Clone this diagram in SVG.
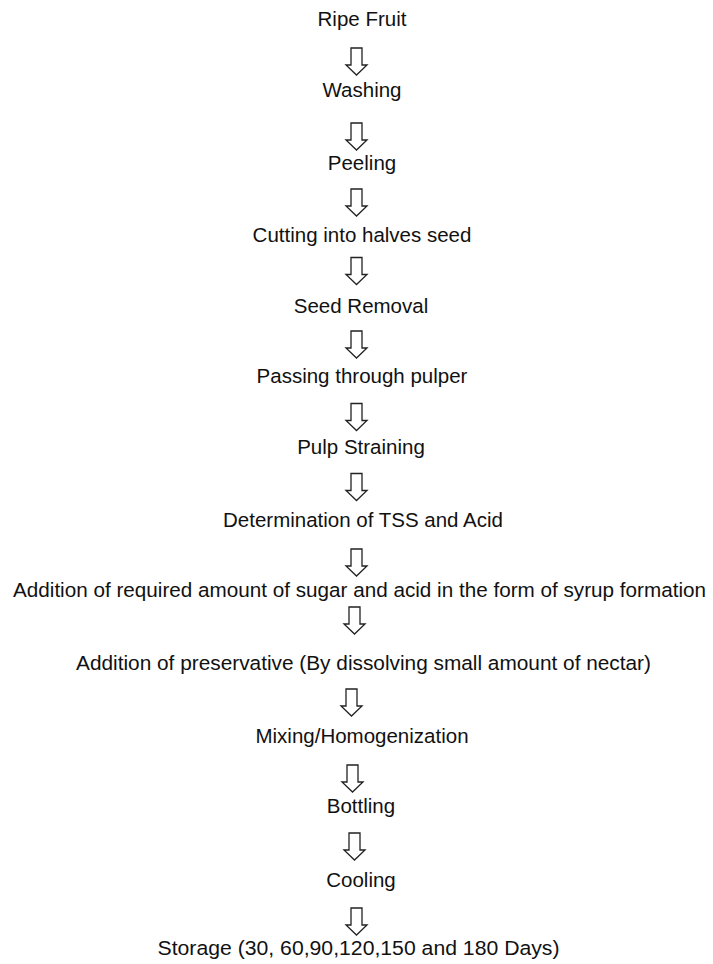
<svg xmlns="http://www.w3.org/2000/svg" width="713" height="964" viewBox="0 0 713 964">
<style>
text{font-family:"Liberation Sans",Arial,sans-serif;font-size:20.5px;fill:#111;text-anchor:middle}
.ar{fill:#fff;stroke:#222;stroke-width:1.3;stroke-linejoin:miter}
</style>
<defs>
<path id="arr" class="ar" d="M-5.5,0 H5.5 V17 H10.5 L0,27 L-10.5,17 H-5.5 Z"/>
</defs>
<rect width="713" height="964" fill="#fff"/>
<g id="connectors">
<use href="#arr" x="356.5" y="48"/>
<use href="#arr" x="356.5" y="123"/>
<use href="#arr" x="356.5" y="189"/>
<use href="#arr" x="356.5" y="257.5"/>
<use href="#arr" x="356.5" y="331"/>
<use href="#arr" x="356.5" y="403.5"/>
<use href="#arr" x="356.5" y="473.5"/>
<use href="#arr" x="356.5" y="549"/>
<use href="#arr" x="354.5" y="607"/>
<use href="#arr" x="351.5" y="689"/>
<use href="#arr" x="352.5" y="765"/>
<use href="#arr" x="354.5" y="833"/>
<use href="#arr" x="356.5" y="908"/>
</g>
<g id="n1"><text x="362" y="26">Ripe Fruit</text></g>
<g id="n2"><text x="362" y="97">Washing</text></g>
<g id="n3"><text x="362" y="170">Peeling</text></g>
<g id="n4"><text x="362" y="242">Cutting into halves seed</text></g>
<g id="n5"><text x="361" y="313">Seed Removal</text></g>
<g id="n6"><text x="362" y="383">Passing through pulper</text></g>
<g id="n7"><text x="361" y="454">Pulp Straining</text></g>
<g id="n8"><text x="363" y="527">Determination of TSS and Acid</text></g>
<g id="n9"><text x="359.5" y="597" textLength="693" lengthAdjust="spacingAndGlyphs">Addition of required amount of sugar and acid in the form of syrup formation</text></g>
<g id="n10"><text x="363.5" y="670" textLength="575" lengthAdjust="spacingAndGlyphs">Addition of preservative (By dissolving small amount of nectar)</text></g>
<g id="n11"><text x="362" y="743">Mixing/Homogenization</text></g>
<g id="n12"><text x="361" y="813">Bottling</text></g>
<g id="n13"><text x="361" y="887">Cooling</text></g>
<g id="n14"><text x="358.5" y="955" textLength="402" lengthAdjust="spacingAndGlyphs">Storage (30, 60,90,120,150 and 180 Days)</text></g>
</svg>
